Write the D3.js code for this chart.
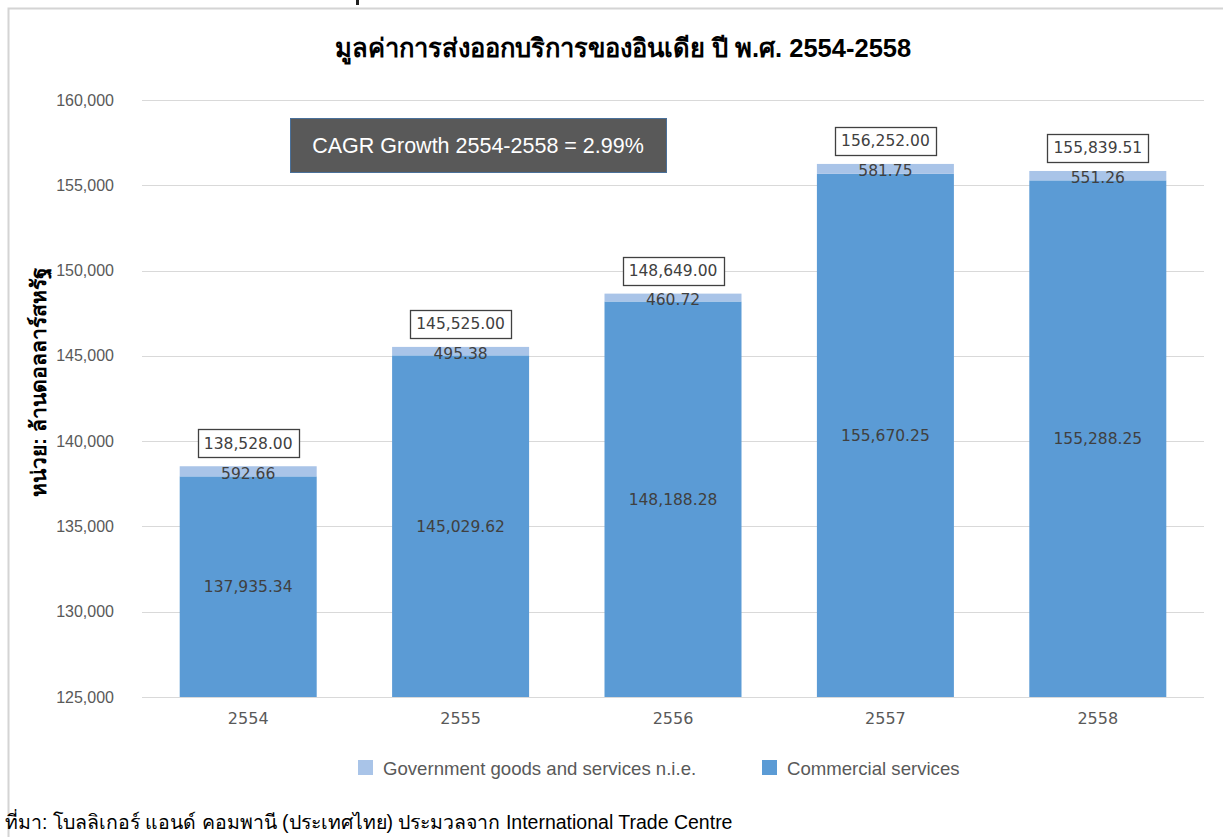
<!DOCTYPE html>
<html>
<head>
<meta charset="utf-8">
<script src="https://cdn.jsdelivr.net/npm/d3@7"></script>
<style>
  body { margin: 0; background: #fff; }
  svg text { font-family: "Liberation Sans", Arial, sans-serif; }
</style>
</head>
<body>
<div id="chart"></div>
<script>
'use strict';

// data
var years      = ["2554", "2555", "2556", "2557", "2558"];
var commercial = [137935.34, 145029.62, 148188.28, 155670.25, 155288.25];
var government = [592.66, 495.38, 460.72, 581.75, 551.26];
var totals     = [138528.00, 145525.00, 148649.00, 156252.00, 155839.51];
var yTicks     = [125000, 130000, 135000, 140000, 145000, 150000, 155000, 160000];

var W = 1223, H = 837;
var plot = {left: 142, right: 1204, top: 100, bottom: 697};

var svg = d3.select("#chart").append("svg")
    .attr("width", W).attr("height", H);

// outer frame of the chart area
svg.append("rect")
    .attr("x", 8.5).attr("y", 8.5)
    .attr("width", W + 20).attr("height", H + 20)
    .attr("fill", "none").attr("stroke", "#d4d4d4").attr("stroke-width", 2);

// small stray mark at the top edge
svg.append("rect").attr("x", 356).attr("y", 0).attr("width", 3).attr("height", 5).attr("fill", "#222");

// scales
var x = d3.scaleBand().domain(years)
    .range([plot.left, plot.right])
    .paddingInner(0.355).paddingOuter(0.1775);
var y = d3.scaleLinear().domain([125000, 160000]).range([plot.bottom, plot.top]);

// gridlines
svg.append("g")
    .selectAll("line").data(yTicks).enter().append("line")
    .attr("x1", plot.left).attr("x2", plot.right)
    .attr("y1", function(d) { return Math.round(y(d)) + 0.5; })
    .attr("y2", function(d) { return Math.round(y(d)) + 0.5; })
    .attr("stroke", "#d9d9d9").attr("stroke-width", 1);

// y axis labels
var yAxis = svg.append("g")
    .attr("transform", "translate(" + plot.left + ",0)")
    .call(d3.axisLeft(y).tickValues(yTicks).tickSize(0).tickPadding(28)
        .tickFormat(d3.format(",")));
yAxis.select(".domain").remove();
yAxis.selectAll("text")
    .attr("fill", "#595959")
    .style("font-family", "'Liberation Sans', Arial, sans-serif")
    .style("font-size", "16px");

// x axis labels
var xAxis = svg.append("g")
    .attr("transform", "translate(0," + plot.bottom + ")")
    .call(d3.axisBottom(x).tickSize(0).tickPadding(16));
xAxis.select(".domain").remove();
xAxis.selectAll("text")
    .attr("fill", "#595959")
    .style("font-family", "'DejaVu Sans', Verdana, sans-serif")
    .style("font-size", "16px");

// stacked bars
var bars = svg.append("g").selectAll("g").data(years).enter().append("g");

bars.append("rect")
    .attr("x", function(d) { return x(d); })
    .attr("width", x.bandwidth())
    .attr("y", function(d, i) { return y(commercial[i]); })
    .attr("height", function(d, i) { return y(125000) - y(commercial[i]); })
    .attr("fill", "#5b9bd5");

bars.append("rect")
    .attr("x", function(d) { return x(d); })
    .attr("width", x.bandwidth())
    .attr("y", function(d, i) { return y(commercial[i] + government[i]); })
    .attr("height", function(d, i) { return y(commercial[i]) - y(commercial[i] + government[i]); })
    .attr("fill", "#a9c4e8");

var valueFont = "'DejaVu Sans', Verdana, sans-serif";

// commercial value labels
bars.append("text")
    .attr("x", function(d) { return x(d) + x.bandwidth() / 2; })
    .attr("y", function(d, i) { return (y(commercial[i]) + y(125000)) / 2; })
    .attr("dy", "0.35em")
    .attr("text-anchor", "middle")
    .attr("fill", "#404040")
    .style("font-family", valueFont).style("font-size", "15.5px")
    .text(function(d, i) { return d3.format(",.2f")(commercial[i]); });

// government value labels
bars.append("text")
    .attr("x", function(d) { return x(d) + x.bandwidth() / 2; })
    .attr("y", function(d, i) { return (y(commercial[i]) + y(commercial[i] + government[i])) / 2 + 2; })
    .attr("dy", "0.35em")
    .attr("text-anchor", "middle")
    .attr("fill", "#404040")
    .style("font-family", valueFont).style("font-size", "15.5px")
    .text(function(d, i) { return d3.format(",.2f")(government[i]); });

// total labels in boxes
var boxW = 101, boxH = 28;
bars.append("rect")
    .attr("x", function(d) { return Math.round(x(d) + x.bandwidth() / 2 - boxW / 2) + 0.5; })
    .attr("y", function(d, i) { return Math.round(y(totals[i]) - 9 - boxH) + 0.5; })
    .attr("width", boxW).attr("height", boxH)
    .attr("fill", "#fff").attr("stroke", "#404040").attr("stroke-width", 1.3);

bars.append("text")
    .attr("x", function(d) { return x(d) + x.bandwidth() / 2; })
    .attr("y", function(d, i) { return y(totals[i]) - 9 - boxH / 2; })
    .attr("dy", "0.35em")
    .attr("text-anchor", "middle")
    .attr("fill", "#404040")
    .style("font-family", valueFont).style("font-size", "15.5px")
    .text(function(d, i) { return d3.format(",.2f")(totals[i]); });

// CAGR box
svg.append("rect")
    .attr("x", 290.5).attr("y", 118.5).attr("width", 376).attr("height", 54)
    .attr("fill", "#595959").attr("stroke", "#4a7099").attr("stroke-width", 1);
svg.append("text")
    .attr("x", 478).attr("y", 145).attr("dy", "0.35em")
    .attr("text-anchor", "middle").attr("fill", "#fff")
    .style("font-size", "21.5px")
    .text("CAGR Growth 2554-2558 = 2.99%");

// title
svg.append("text")
    .attr("x", 623).attr("y", 57)
    .attr("text-anchor", "middle").attr("fill", "#000")
    .style("font-size", "25.5px").style("font-weight", "bold")
    .text("มูลค่าการส่งออกบริการของอินเดีย ปี พ.ศ. 2554-2558");

// y axis title
svg.append("text")
    .attr("transform", "translate(46,382) rotate(-90)")
    .attr("text-anchor", "middle").attr("fill", "#000")
    .style("font-size", "21px").style("font-weight", "bold")
    .text("หน่วย: ล้านดอลลาร์สหรัฐ");

// legend
var legend = [
  {name: "Government goods and services n.i.e.", color: "#a9c4e8", x: 358},
  {name: "Commercial services", color: "#5b9bd5", x: 762}
];
var lg = svg.append("g").selectAll("g").data(legend).enter().append("g");
lg.append("rect")
    .attr("x", function(d) { return d.x; }).attr("y", 760)
    .attr("width", 15).attr("height", 15)
    .attr("fill", function(d) { return d.color; });
lg.append("text")
    .attr("x", function(d) { return d.x + 25; }).attr("y", 768).attr("dy", "0.35em")
    .attr("fill", "#595959").style("font-size", "18.6px")
    .text(function(d) { return d.name; });

// source note
svg.append("text")
    .attr("x", 5).attr("y", 829)
    .attr("fill", "#000").style("font-size", "19.5px")
    .text("ที่มา: โบลลิเกอร์ แอนด์ คอมพานี (ประเทศไทย) ประมวลจาก International Trade Centre");
</script>
</body>
</html>
